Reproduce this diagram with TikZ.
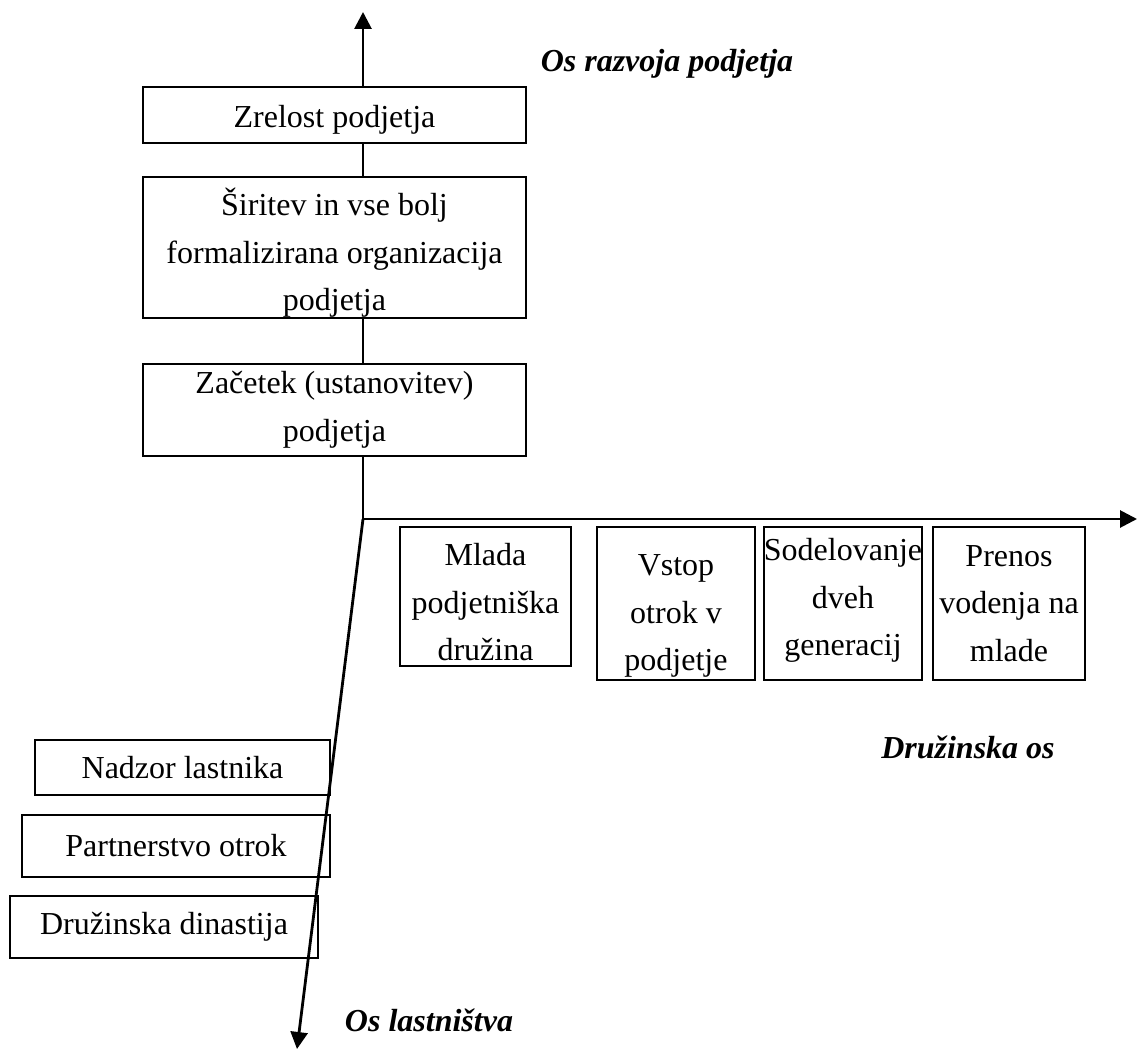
\documentclass[tikz,border=0pt]{standalone}
\usepackage{fontspec}
\setmainfont{Liberation Serif}
\usetikzlibrary{arrows.meta}
\newcommand{\boxtop}[1]{\rule{0pt}{#1}}
\newcommand{\boxbot}[1]{\rule[-#1]{0pt}{#1}}

\begin{document}
\begin{tikzpicture}[
    x=1pt, y=-1pt,
    font=\fontsize{32}{47.5}\selectfont,
    box/.style={rectangle, draw, line width=1.9pt, fill=white, inner sep=0pt, align=center},
    axis/.style={line width=2.8pt, -{Triangle[width=17pt,length=17pt]}},
    axislabel/.style={font=\fontsize{32}{40}\selectfont\bfseries\itshape}
]
\useasboundingbox (0,0) rectangle (1137,1049);

% Axes
\coordinate (origin) at (363,519);
\coordinate (top) at (363,12);
\coordinate (right) at (1137,519);
\coordinate (bottom) at (297,1049);
\draw[axis] (origin) -- (top);
\draw[axis] (origin) -- (right);

% Company development axis
\node[box, minimum width=383pt, minimum height=56pt] (zrelost) at (334.5,115) {\boxtop{32pt}Zrelost podjetja};
\node[box, minimum width=383pt, minimum height=141pt] (siritev) at (334.5,247.5) {\boxtop{38pt}Širitev in vse bolj\\formalizirana organizacija\\podjetja};
\node[box, minimum width=383pt, minimum height=92pt] (zacetek) at (334.5,410) {Začetek (ustanovitev)\\podjetja};

% Family axis
\node[box, minimum width=171pt, minimum height=139pt] (mlada) at (485.5,596.5) {\boxtop{34pt}Mlada\\podjetniška\\družina};
\node[box, minimum width=158pt, minimum height=153pt] (vstop) at (676,603.5) {\boxtop{46pt}Vstop\\otrok v\\podjetje};
\node[box, minimum width=152pt, minimum height=153pt] (sodelovanje) at (843,603.5) {Sodelovanje\\dveh\\generacij\boxbot{13pt}};
\node[box, minimum width=152pt, minimum height=153pt] (prenos) at (1009,603.5) {Prenos\\vodenja na\\mlade};

% Ownership axis
\node[box, fill=none, minimum width=295pt, minimum height=55pt] (nadzor) at (182.5,767.5) {Nadzor lastnika};
\node[box, fill=none, minimum width=308pt, minimum height=62pt] (partnerstvo) at (176,846) {Partnerstvo otrok};
\node[box, fill=none, minimum width=308pt, minimum height=62pt] (dinastija) at (164,927) {Družinska dinastija};
\draw[axis] (origin) -- (bottom);

% Axis labels
\node[axislabel] (osrazvoja) at (667,64) {Os razvoja podjetja};
\node[axislabel] (druzinska) at (968,747) {Družinska os};
\node[axislabel] (oslastnistva) at (429,1020) {Os lastništva};

\end{tikzpicture}
\end{document}
